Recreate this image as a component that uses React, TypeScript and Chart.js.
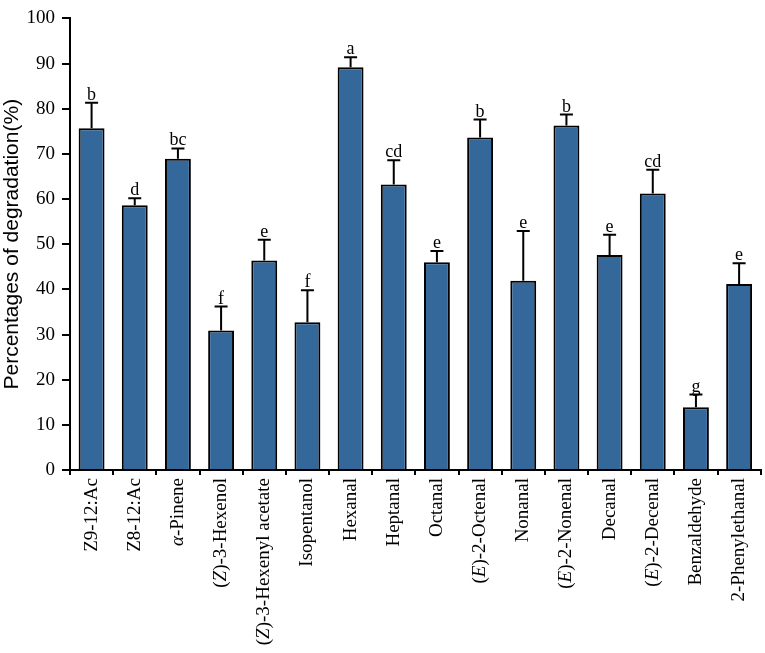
import React, { useEffect, useRef } from "react";
import { Chart, registerables } from "chart.js";

Chart.register(...registerables);

// label segments: [text, italic]
const categories: [string, boolean][][] = [
  [["Z9-12:Ac", false]],
  [["Z8-12:Ac", false]],
  [["α", true], ["-Pinene", false]],
  [["(", false], ["Z", true], [")-3-Hexenol", false]],
  [["(", false], ["Z", true], [")-3-Hexenyl acetate", false]],
  [["Isopentanol", false]],
  [["Hexanal", false]],
  [["Heptanal", false]],
  [["Octanal", false]],
  [["(", false], ["E", true], [")-2-Octenal", false]],
  [["Nonanal", false]],
  [["(", false], ["E", true], [")-2-Nonenal", false]],
  [["Decanal", false]],
  [["(", false], ["E", true], [")-2-Decenal", false]],
  [["Benzaldehyde", false]],
  [["2-Phenylethanal", false]],
];

const labels = categories.map((segs) => segs.map((s) => s[0]).join(""));

const values = [75.7, 58.6, 68.9, 30.9, 46.4, 32.7, 89.2, 63.2, 46.0, 73.6, 41.9, 76.3, 47.6, 61.2, 13.9, 41.2];
const errors = [5.6, 1.6, 2.3, 5.3, 4.6, 7.1, 2.2, 5.4, 2.5, 4.0, 11.0, 2.4, 4.5, 5.3, 2.8, 4.6];
const letters = ["b", "d", "bc", "f", "e", "f", "a", "cd", "e", "b", "e", "b", "e", "cd", "g", "e"];

const yTicks = [0, 10, 20, 30, 40, 50, 60, 70, 80, 90, 100];

const SERIF = "'Liberation Serif', 'DejaVu Serif', serif";
const SANS = "'Liberation Sans', Arial, sans-serif";

const overlayPlugin = {
  id: "overlay",
  afterDatasetsDraw(chart: any) {
    const ctx = chart.ctx;
    const x = chart.scales.x;
    const y = chart.scales.y;
    ctx.save();
    ctx.strokeStyle = "#000";
    ctx.lineWidth = 2;
    values.forEach((v, i) => {
      const px = x.getPixelForValue(i);
      const y0 = y.getPixelForValue(v);
      const y1 = y.getPixelForValue(v + errors[i]);
      ctx.beginPath();
      ctx.moveTo(px, y0);
      ctx.lineTo(px, y1);
      ctx.moveTo(px - 6.5, y1);
      ctx.lineTo(px + 6.5, y1);
      ctx.stroke();
      ctx.fillStyle = "#000";
      ctx.font = `18px ${SERIF}`;
      ctx.textAlign = "center";
      ctx.textBaseline = "alphabetic";
      ctx.fillText(letters[i], px, y1 - 3);
    });
    ctx.restore();
  },
  afterDraw(chart: any) {
    const ctx = chart.ctx;
    const x = chart.scales.x;
    const top = chart.chartArea.bottom + 8;
    ctx.save();
    ctx.fillStyle = "#000";
    ctx.textBaseline = "middle";
    ctx.textAlign = "left";
    categories.forEach((segs, i) => {
      const px = x.getPixelForValue(i);
      const fonts = segs.map((s) => `${s[1] ? "italic " : ""}19px ${SERIF}`);
      let total = 0;
      const widths = segs.map((s, k) => {
        ctx.font = fonts[k];
        const w = ctx.measureText(s[0]).width;
        total += w;
        return w;
      });
      ctx.save();
      ctx.translate(px, top);
      ctx.rotate(-Math.PI / 2);
      let cx = -total;
      segs.forEach((s, k) => {
        ctx.font = fonts[k];
        ctx.fillText(s[0], cx, 0);
        cx += widths[k];
      });
      ctx.restore();
    });
    ctx.restore();
  },
};

export default function App() {
  const ref = useRef<HTMLCanvasElement>(null);
  useEffect(() => {
    document.body.style.margin = "0";
    const chart = new Chart(ref.current!, {
      type: "bar",
      data: {
        labels,
        datasets: [
          {
            data: values,
            backgroundColor: "#35689a",
            borderColor: "#000",
            borderWidth: 2,
            categoryPercentage: 1,
            barPercentage: 0.6,
          },
        ],
      },
      options: {
        responsive: false,
        animation: false,
        devicePixelRatio: 1,
        layout: { padding: { top: 11, right: 3, left: 0, bottom: 0 } },
        plugins: {
          legend: { display: false },
          tooltip: { enabled: false },
        },
        scales: {
          x: {
            offset: true,
            grid: {
              offset: true,
              drawOnChartArea: false,
              drawTicks: true,
              tickLength: 5,
              color: "#000",
              lineWidth: 2,
            },
            border: { display: true, color: "#000", width: 2 },
            ticks: {
              color: "rgba(0,0,0,0)",
              font: { family: SERIF, size: 19 },
              maxRotation: 90,
              minRotation: 90,
              autoSkip: false,
            },
            afterFit(scale: any) {
              scale.height = 183;
            },
          },
          y: {
            min: 0,
            max: 100,
            afterBuildTicks(scale: any) {
              scale.ticks = yTicks.map((v) => ({ value: v }));
            },
            grid: {
              drawOnChartArea: false,
              drawTicks: true,
              tickLength: 8,
              color: "#000",
              lineWidth: 2,
            },
            border: { display: true, color: "#000", width: 2 },
            ticks: {
              color: "#000",
              padding: 7,
              font: { family: SERIF, size: 19 },
            },
            title: {
              display: true,
              text: "Percentages of degradation(%)",
              color: "#000",
              font: { family: SANS, size: 21 },
              padding: { top: 0, bottom: 0 },
            },
            afterFit(scale: any) {
              scale.width = 70;
            },
          },
        },
      },
      plugins: [overlayPlugin],
    });
    return () => chart.destroy();
  }, []);
  return (
    <div style={{ width: 765, height: 653, background: "#fff" }}>
      <canvas ref={ref} width={765} height={653} />
    </div>
  );
}
